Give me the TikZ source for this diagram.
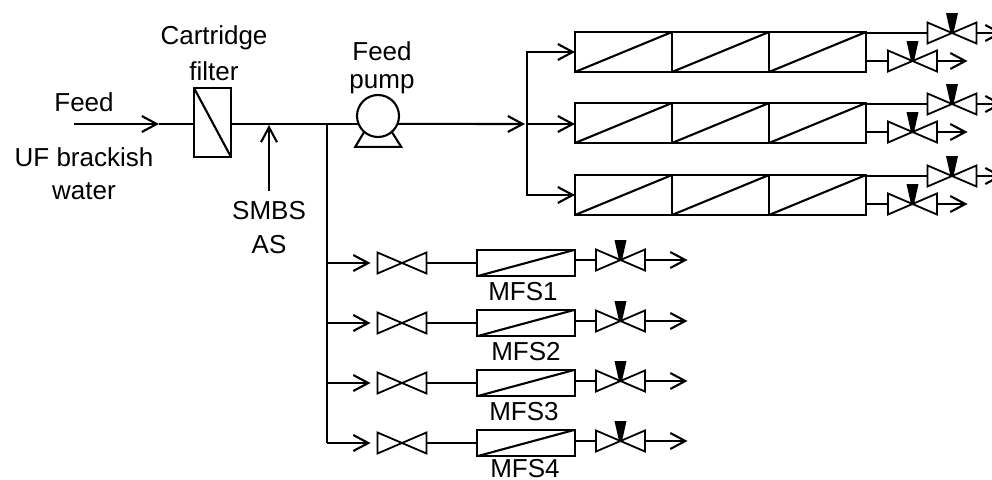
\documentclass[tikz,border=0pt]{standalone}
\usepackage{fontspec}
\setmainfont{Liberation Sans}
\usepackage{tikz}
\usetikzlibrary{arrows.meta, positioning, calc}

\begin{document}
\begin{tikzpicture}[x=1pt, y=-1pt, line width=2.1pt, font=\fontsize{26}{34}\selectfont, >={Straight Barb[length=15pt, width=16pt, line width=2.1pt]}]
        \tikzstyle{label} = [inner sep=0pt, align=center]
        \tikzstyle{output} = [coordinate]
        \tikzstyle{filterbox} = [draw, rectangle, outer sep=0pt, minimum width=37pt, minimum height=69pt, path picture={\draw (path picture bounding box.north west) -- (path picture bounding box.south east);}]
        \tikzstyle{module} = [draw, rectangle, outer sep=0pt, minimum width=97pt, minimum height=40pt, path picture={\draw (path picture bounding box.south west) -- (path picture bounding box.north east);}]
        \tikzstyle{mfsbox} = [module, minimum width=98pt, minimum height=26.5pt]
        \tikzstyle{pumpbody} = [draw, circle, outer sep=0pt, inner sep=0pt, minimum size=42pt]
        \tikzstyle{valve} = [rectangle, outer sep=0pt, inner sep=0pt, minimum width=49pt, minimum height=21pt, append after command={\pgfextra{\draw [line width=1.8pt, line join=miter] (\tikzlastnode.north west) -- (\tikzlastnode.south east) -- (\tikzlastnode.north east) -- (\tikzlastnode.south west) -- cycle;}}]
        \tikzstyle{ctrlvalve} = [valve, append after command={\pgfextra{\fill ([shift={(-6pt,20pt)}]\tikzlastnode.center) -- ([shift={(6pt,20pt)}]\tikzlastnode.center) -- ([shift={(1.5pt,0pt)}]\tikzlastnode.center) -- ([shift={(-1.5pt,0pt)}]\tikzlastnode.center) -- cycle;}}]

        \useasboundingbox (0,0) rectangle (992,479);

        % --- feed side ---
        \node [output] (feed) at (74,124) {};
        \node [output] (feedtip) at (159,124) {};
        \node [label] (feedlab) at (84,102) {Feed};
        \node [label, font=\fontsize{26}{33}\selectfont] (uflab) at (84,174) {UF brackish\\water};
        \node [filterbox] (filter) at (212.5,122.5) {};
        \node [label, font=\fontsize{26}{36}\selectfont] (filterlab) at (214,53) {Cartridge\\filter};
        \node [output] (dose) at (269,125) {};
        \node [label] (smbs) at (269,228) {SMBS\\AS};
        \node [output] (tap) at (327,124) {};
        \node [pumpbody] (pump) at (378,116) {};
        \node [label, font=\fontsize{26}{28}\selectfont] (pumplab) at (382,68) {Feed\\pump};
        \node [output] (split) at (527,124) {};

        % --- RO trains ---
        \node [module] (m1a) at (623.5,52) {};
        \node [module, right of=m1a, node distance=97pt] (m1b) {};
        \node [module, right of=m1b, node distance=97pt] (m1c) {};
        \node [module, below of=m1a, node distance=71pt] (m2a) {};
        \node [module, right of=m2a, node distance=97pt] (m2b) {};
        \node [module, right of=m2b, node distance=97pt] (m2c) {};
        \node [module, below of=m2a, node distance=72pt] (m3a) {};
        \node [module, right of=m3a, node distance=97pt] (m3b) {};
        \node [module, right of=m3b, node distance=97pt] (m3c) {};

        \node [ctrlvalve, right of=m1c, node distance=134.5pt, yshift=19pt] (v1a) {};
        \node [ctrlvalve, right of=m1c, node distance=95pt, yshift=-9pt] (v1b) {};
        \node [ctrlvalve, right of=m2c, node distance=134.5pt, yshift=19pt] (v2a) {};
        \node [ctrlvalve, right of=m2c, node distance=95pt, yshift=-9pt] (v2b) {};
        \node [ctrlvalve, right of=m3c, node distance=134.5pt, yshift=19pt] (v3a) {};
        \node [ctrlvalve, right of=m3c, node distance=95pt, yshift=-9pt] (v3b) {};

        \node [output, right of=v1a, node distance=50.5pt] (o1a) {};
        \node [output, right of=v1b, node distance=55pt] (o1b) {};
        \node [output, right of=v2a, node distance=50.5pt] (o2a) {};
        \node [output, right of=v2b, node distance=55pt] (o2b) {};
        \node [output, right of=v3a, node distance=50.5pt] (o3a) {};
        \node [output, right of=v3b, node distance=55pt] (o3b) {};

        % --- MFS lines ---
        \node [valve] (in1) at (402,263) {};
        \node [valve, below of=in1, node distance=60pt] (in2) {};
        \node [valve, below of=in2, node distance=60pt] (in3) {};
        \node [valve, below of=in3, node distance=60pt] (in4) {};
        \node [mfsbox, right of=in1, node distance=124pt] (mfs1) {};
        \node [mfsbox, right of=in2, node distance=124pt] (mfs2) {};
        \node [mfsbox, right of=in3, node distance=124pt] (mfs3) {};
        \node [mfsbox, right of=in4, node distance=124pt] (mfs4) {};
        \node [ctrlvalve, right of=mfs1, node distance=94.5pt, yshift=3pt] (out1) {};
        \node [ctrlvalve, right of=mfs2, node distance=94.5pt, yshift=2pt] (out2) {};
        \node [ctrlvalve, right of=mfs3, node distance=94.5pt, yshift=2pt] (out3) {};
        \node [ctrlvalve, right of=mfs4, node distance=94.5pt, yshift=2pt] (out4) {};
        \node [output, right of=out1, node distance=67pt] (end1) {};
        \node [output, right of=out2, node distance=67pt] (end2) {};
        \node [output, right of=out3, node distance=67pt] (end3) {};
        \node [output, right of=out4, node distance=67pt] (end4) {};
        \node [label, below of=mfs1, node distance=28.5pt, xshift=-3pt] (lab1) {MFS1};
        \node [label, below of=mfs2, node distance=28.5pt] (lab2) {MFS2};
        \node [label, below of=mfs3, node distance=28.5pt, xshift=-2pt] (lab3) {MFS3};
        \node [label, below of=mfs4, node distance=25.5pt, xshift=-1pt] (lab4) {MFS4};

        % --- main line ---
        \draw [->] (feed) -- (feedtip);
        \draw (feedtip) -- (filter.west |- feedtip);
        \draw (filter.east |- pump.202) -- (pump.202);
        \draw [->] ([yshift=10pt]smbs.north) -- (smbs.north |- dose);
        \draw (pump.-131) -- ++(-9,15) -- ++(46,0) -- (pump.-49);
        \draw [->] (pump.-22) -- ([xshift=-2pt]split);
        \draw [->] (split) -- (m2a.west |- split);
        \draw [->] (split) |- (m1a.west);
        \draw [->] (split) |- (m3a.west);

        % --- RO outlets ---
        \draw (m1c.east |- v1a) -- (v1a.west);
        \draw (m1c.east |- v1b) -- (v1b.west);
        \draw [->] (v1a.east) -- (o1a);
        \draw [->] (v1b.east) -- (o1b);
        \draw (m2c.east |- v2a) -- (v2a.west);
        \draw (m2c.east |- v2b) -- (v2b.west);
        \draw [->] (v2a.east) -- (o2a);
        \draw [->] (v2b.east) -- (o2b);
        \draw (m3c.east |- v3a) -- (v3a.west);
        \draw (m3c.east |- v3b) -- (v3b.west);
        \draw [->] (v3a.east) -- (o3a);
        \draw [->] (v3b.east) -- (o3b);

        % --- MFS connections ---
        \draw (tap) -- (tap |- in4);
        \draw [->] (tap |- in1) -- ([xshift=-7pt]in1.west);
        \draw [->] (tap |- in2) -- ([xshift=-7pt]in2.west);
        \draw [->] (tap |- in3) -- ([xshift=-7pt]in3.west);
        \draw [->] (tap |- in4) -- ([xshift=-7pt]in4.west);
        \draw (in1.east) -- (mfs1.west |- in1);
        \draw (in2.east) -- (mfs2.west |- in2);
        \draw (in3.east) -- (mfs3.west |- in3);
        \draw (in4.east) -- (mfs4.west |- in4);
        \draw (mfs1.east |- out1) -- (out1.west);
        \draw (mfs2.east |- out2) -- (out2.west);
        \draw (mfs3.east |- out3) -- (out3.west);
        \draw (mfs4.east |- out4) -- (out4.west);
        \draw [->] (out1.east) -- (end1);
        \draw [->] (out2.east) -- (end2);
        \draw [->] (out3.east) -- (end3);
        \draw [->] (out4.east) -- (end4);

    \end{tikzpicture}
\end{document}
